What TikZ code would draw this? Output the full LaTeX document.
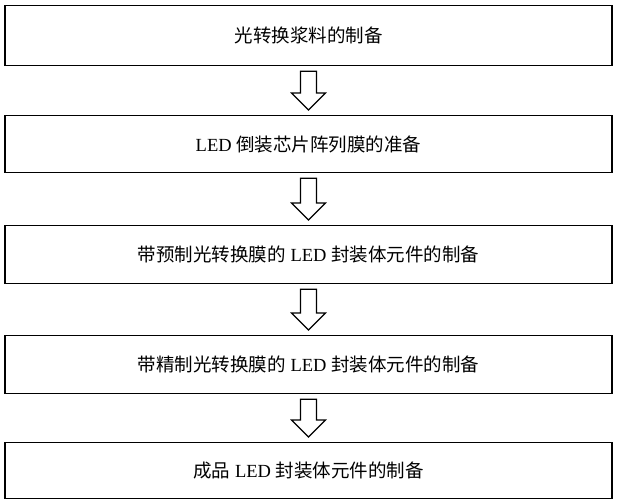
\documentclass[tikz,border=0pt]{standalone}
\usepackage{fontspec}
\usetikzlibrary{calc}
\setmainfont{Liberation Serif}
\newfontfamily\cjk{Noto Sans CJK SC}
\begin{document}
\begin{tikzpicture}[x=1pt,y=-1pt,
  stepbox/.style={draw,line width=1.2pt,minimum width=607pt,anchor=north,inner sep=0pt,font=\fontsize{18.5}{22}\selectfont},
  hollow/.style={draw,line width=1.2pt,fill=white}]
\useasboundingbox (0,0) rectangle (617,500);
\node[stepbox,minimum height=60pt] (b1) at (308.5,5) {\cjk 光转换浆料的制备};
\node[stepbox,minimum height=57pt] (b2) at (308.5,115) {LED {\cjk 倒装芯片阵列膜的准备}};
\node[stepbox,minimum height=58pt] (b3) at (308.5,225) {{\cjk 带预制光转换膜的} LED {\cjk 封装体元件的制备}};
\node[stepbox,minimum height=58pt] (b4) at (308.5,335) {{\cjk 带精制光转换膜的} LED {\cjk 封装体元件的制备}};
\node[stepbox,minimum height=56pt] (b5) at (308.5,442) {{\cjk 成品} LED {\cjk 封装体元件的制备}};
\foreach \a/\b in {b1/b2,b2/b3,b3/b4,b4/b5}{
  \path (\a.south) ++(0,5) coordinate (s) (\b.north) ++(0,-5) coordinate (e);
  \draw[hollow] (s) ++(-8,0) -- ++(16,0) -- ($(e)+(8,-17)$) -- ++(9,0) -- (e) -- ++(-17,-17) -- ++(9,0) -- cycle;
}
\end{tikzpicture}
\end{document}
